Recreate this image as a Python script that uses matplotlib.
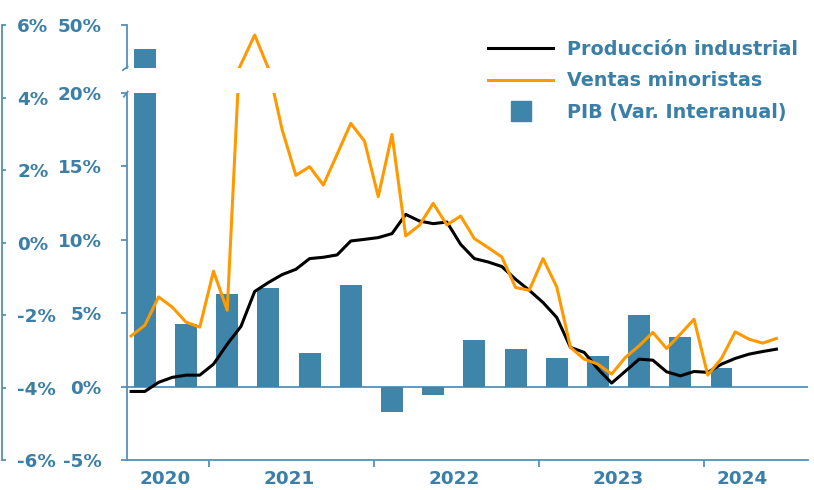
import numpy as np
import pandas as pd
import matplotlib
matplotlib.use("Agg")
import matplotlib.pyplot as plt
from matplotlib.lines import Line2D

# Periodos
meses = pd.period_range("2020-07", "2024-06", freq="M")
trimestres = pd.period_range("2020Q3", "2024Q1", freq="Q")
anios = [2020, 2021, 2022, 2023, 2024]

# Series mensuales (%)
produccion = [-0.33, -0.33, 0.29, 0.63, 0.78, 0.78, 1.53, 2.89, 4.10, 6.48, 7.09, 7.63,
              7.99, 8.72, 8.81, 8.97, 9.92, 10.03, 10.15, 10.42, 11.73, 11.28, 11.10, 11.21,
              9.69, 8.72, 8.49, 8.18, 7.31, 6.56, 5.73, 4.71, 2.67, 2.33, 1.20, 0.24,
              1.05, 1.87, 1.80, 1.01, 0.73, 1.03, 0.97, 1.53, 1.92, 2.21, 2.39, 2.55]
ventas = [3.45, 4.18, 6.11, 5.41, 4.39, 4.05, 7.86, 5.20, 24.4, 43.5, 21.7, 17.5,
          14.39, 14.98, 13.73, 15.82, 17.93, 16.72, 12.94, 17.18, 10.26, 10.99, 12.48, 11.01,
          11.62, 10.08, 9.47, 8.83, 6.75, 6.56, 8.72, 6.79, 2.67, 1.87, 1.53, 0.85,
          1.99, 2.78, 3.69, 2.60, 3.57, 4.59, 0.78, 1.92, 3.73, 3.23, 2.96, 3.28]
# PIB trimestral (%)
pib = [34.3, 4.25, 6.3, 6.7, 2.3, 6.9, -1.75, -0.6, 3.2, 2.55, 1.95, 2.07, 4.85, 3.35, 1.3]

ticks_inner = [-5, 0, 5, 10, 15, 20]
ticks_outer = [-6, -4, -2, 0, 2, 4, 6]

AZUL = "#3f84a9"
TEXTO = "#3b7fa7"
EJE = "#5492b9"
NARANJA = "#ff9900"

plt.rcParams["font.family"] = ["DejaVu Sans"]
plt.rcParams["font.weight"] = "bold"

# posiciones en meses
x_mes = np.arange(len(meses))
x_trim = np.array([(q.asfreq("M", "s") - meses[0]).n + 1 for q in trimestres])
limites = [(pd.Period(f"{a}-01", "M") - meses[0]).n - 0.3 for a in anios[1:]]
centros = []
for a in anios:
    idx = [i for i, m in enumerate(meses) if m.year == a]
    centros.append((idx[0] + idx[-1]) / 2)

W, H = 814, 490
fig = plt.figure(figsize=(W / 100, H / 100), dpi=100)


def rect(x0, y0, x1, y1):
    return [x0 / W, 1 - y1 / H, (x1 - x0) / W, (y1 - y0) / H]


ax = fig.add_axes(rect(127, 93, 808, 460))
ax_top = fig.add_axes(rect(127, 25, 808, 68), sharex=ax)
ax_out = fig.add_axes(rect(0, 25, 2, 460))

for a in (ax, ax_top):
    a.bar(x_trim, pib, width=1.6, color=AZUL, zorder=2)
    a.plot(x_mes, produccion, color="black", lw=2.2, zorder=3)
    a.plot(x_mes, ventas, color=NARANJA, lw=2.2, zorder=4)
    a.set_facecolor("none")
    for s in ["top", "right"]:
        a.spines[s].set_visible(False)
    a.spines["left"].set_color(EJE)
    a.spines["left"].set_linewidth(1.3)
    a.tick_params(axis="y", colors=EJE, labelcolor=TEXTO, labelsize=13.2,
                  length=4.5, width=1.3, pad=13.8)

ax.axhline(0, color=EJE, lw=1.3, zorder=1)
ax.set_xlim(-0.3, 49.3)
ax.set_ylim(-5, 20)
ax_top.set_ylim(22, 50)

ax.set_yticks(ticks_inner)
ax.set_yticklabels([f"{v}%" for v in ticks_inner])
ax_top.set_yticks([50])
ax_top.set_yticklabels(["50%"])

ax.spines["bottom"].set_color(EJE)
ax.spines["bottom"].set_linewidth(1.3)
ax.set_xticks(limites)
ax.set_xticklabels([])
ax.set_xticks(centros, minor=True)
ax.set_xticklabels([str(a) for a in anios], minor=True)
ax.tick_params(axis="x", which="major", colors=EJE, length=5, width=1.3)
ax.tick_params(axis="x", which="minor", length=0, labelcolor=TEXTO,
               labelsize=13.2, pad=7.5)
ax_top.spines["bottom"].set_visible(False)
ax_top.tick_params(axis="x", which="both", bottom=False, labelbottom=False)

# marcas de corte del eje
ax.plot([-0.0045, 0.001], [0.99, 1.004], transform=ax.transAxes,
        color=EJE, lw=1.3, clip_on=False)
ax_top.plot([0.001, -0.006], [0.03, -0.05], transform=ax_top.transAxes,
            color=EJE, lw=1.3, clip_on=False)

# eje exterior
ax_out.set_ylim(-6, 6)
ax_out.set_facecolor("none")
for s in ["top", "left", "bottom"]:
    ax_out.spines[s].set_visible(False)
ax_out.spines["right"].set_color(EJE)
ax_out.spines["right"].set_linewidth(1.3)
ax_out.xaxis.set_visible(False)
ax_out.yaxis.tick_right()
ax_out.set_yticks(ticks_outer)
ax_out.set_yticklabels([f"{v}%" for v in ticks_outer])
ax_out.tick_params(axis="y", colors=EJE, labelcolor=TEXTO, labelsize=13.2,
                   length=3, width=1.3, pad=8)

# leyenda
handles = [Line2D([], [], color="black", lw=2.2),
           Line2D([], [], color=NARANJA, lw=2.2),
           Line2D([], [], color=AZUL, marker="s", ls="None", markersize=15)]
leg = fig.legend(handles, ["Producción industrial", "Ventas minoristas", "PIB (Var. Interanual)"],
                 loc="upper left", bbox_to_anchor=(488 / W, 1 - 40 / H), frameon=False,
                 fontsize=13.8, handlelength=3.4, handletextpad=0.7, labelspacing=0.64,
                 borderpad=0, borderaxespad=0)
for t in leg.get_texts():
    t.set_color(TEXTO)
    t.set_fontweight("bold")

fig.savefig("out.png", dpi=100)
